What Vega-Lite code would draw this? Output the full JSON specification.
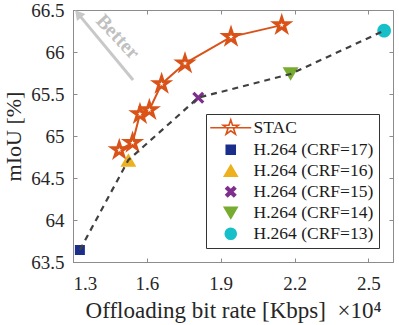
{
  "$schema": "https://vega.github.io/schema/vega-lite/v6.json",
  "width": 320,
  "height": 252,
  "autosize": {"type": "none"},
  "padding": {"left": 73, "top": 10, "right": 6, "bottom": 63},
  "background": "white",
  "config": {
    "view": {"stroke": "#8c8c8c", "strokeWidth": 1},
    "font": "Liberation Serif",
    "axis": {
      "grid": false,
      "domainColor": "#8c8c8c",
      "tickColor": "#8c8c8c",
      "tickSize": -4,
      "labelFont": "Liberation Serif",
      "labelFontSize": 19,
      "labelColor": "#262626",
      "titleFont": "Liberation Serif",
      "titleFontSize": 22,
      "titleFontWeight": "normal",
      "titleColor": "#262626"
    },
    "legend": {
      "labelFont": "Liberation Serif",
      "labelFontSize": 17.5,
      "labelColor": "#1a1a1a",
      "strokeColor": "#333333",
      "fillColor": "white",
      "padding": 5,
      "rowPadding": 2,
      "labelOffset": 14,
      "symbolOffset": 11,
      "symbolSize": 150,
      "symbolStrokeWidth": 1.6,
      "symbolOpacity": 1
    }
  },
  "datasets": {
    "stac": [
      {"series": "STAC", "x": 1.488, "y": 64.833},
      {"series": "STAC", "x": 1.542, "y": 64.92},
      {"series": "STAC", "x": 1.572, "y": 65.262},
      {"series": "STAC", "x": 1.61, "y": 65.31},
      {"series": "STAC", "x": 1.66, "y": 65.62},
      {"series": "STAC", "x": 1.755, "y": 65.865},
      {"series": "STAC", "x": 1.942, "y": 66.18},
      {"series": "STAC", "x": 2.148, "y": 66.32}
    ],
    "h264": [
      {"series": "H.264 (CRF=17)", "x": 1.328, "y": 63.643},
      {"series": "H.264 (CRF=16)", "x": 1.525, "y": 64.714},
      {"series": "H.264 (CRF=15)", "x": 1.809, "y": 65.456},
      {"series": "H.264 (CRF=14)", "x": 2.184, "y": 65.738},
      {"series": "H.264 (CRF=13)", "x": 2.564, "y": 66.254}
    ],
    "arrow": [
      {"x": 1.544, "y": 65.667, "x2": 1.328, "y2": 66.43}
    ],
    "head": [
      {"x": 1.321, "y": 66.454}
    ],
    "note": [
      {"x": 1.481, "y": 66.18, "label": "Better"}
    ]
  },
  "layer": [
    {
      "layer": [
        {
          "data": {"name": "arrow"},
          "mark": {"type": "rule", "color": "#c8c8c8", "strokeWidth": 3},
          "encoding": {
            "x": {
              "field": "x", "type": "quantitative",
              "scale": {"domain": [1.3, 2.6], "zero": false, "nice": false},
              "axis": {
                "values": [1.3, 1.6, 1.9, 2.2, 2.5],
                "format": "~g",
                "labelPadding": 16,
                "title": "Offloading bit rate [Kbps]\u00a0\u00a0\u00d710\u2074",
                "titleFontSize": 23,
                "titleBaseline": "alphabetic",
                "titleY": 55
              }
            },
            "y": {
              "field": "y", "type": "quantitative",
              "scale": {"domain": [63.5, 66.5], "zero": false, "nice": false},
              "axis": {
                "values": [63.5, 64, 64.5, 65, 65.5, 66, 66.5],
                "format": "~g",
                "labelPadding": 13,
                "title": "mIoU [%]",
                "titleBaseline": "alphabetic",
                "titleAlign": "center",
                "titleX": -53,
                "titleY": 126
              }
            },
            "x2": {"field": "x2"},
            "y2": {"field": "y2"}
          }
        },
        {
          "data": {"name": "head"},
          "mark": {"type": "point", "shape": "triangle-up", "filled": true, "color": "#c8c8c8", "opacity": 1, "size": 120, "angle": 320.4},
          "encoding": {
            "x": {"field": "x", "type": "quantitative"},
            "y": {"field": "y", "type": "quantitative"}
          }
        },
        {
          "data": {"name": "note"},
          "mark": {"type": "text", "angle": 46.6, "fontSize": 20, "fontWeight": "bold", "font": "Liberation Serif", "color": "#c0c0c0", "align": "center", "baseline": "middle"},
          "encoding": {
            "x": {"field": "x", "type": "quantitative"},
            "y": {"field": "y", "type": "quantitative"},
            "text": {"field": "label"}
          }
        },
        {
          "data": {"name": "stac"},
          "mark": {"type": "line", "color": "#D95319", "strokeWidth": 2},
          "encoding": {
            "x": {"field": "x", "type": "quantitative"},
            "y": {"field": "y", "type": "quantitative"},
            "order": {"field": "x"}
          }
        },
        {
          "data": {"name": "stac"},
          "mark": {
            "type": "point",
            "shape": "M0,-1L0.2245,-0.309L0.951,-0.309L0.3633,0.118L0.588,0.809L0,0.382L-0.588,0.809L-0.3633,0.118L-0.951,-0.309L-0.2245,-0.309Z",
            "fill": "#ffffff",
            "stroke": "#D95319",
            "opacity": 1,
            "strokeWidth": 3,
            "size": 220
          },
          "encoding": {
            "x": {"field": "x", "type": "quantitative"},
            "y": {"field": "y", "type": "quantitative"}
          }
        },
        {
          "data": {"name": "h264"},
          "transform": [{"filter": "datum.series === 'H.264 (CRF=17)'"}],
          "mark": {"type": "point", "filled": true, "opacity": 1, "strokeWidth": 0, "size": 188},
          "encoding": {
            "x": {"field": "x", "type": "quantitative"},
            "y": {"field": "y", "type": "quantitative"},
            "shape": {
              "field": "series", "type": "nominal",
              "scale": {
                "type": "ordinal",
                "domain": ["STAC", "H.264 (CRF=17)", "H.264 (CRF=16)", "H.264 (CRF=15)", "H.264 (CRF=14)", "H.264 (CRF=13)"],
                "range": [
                  "M-3.35,0L3.35,0M0,-1.3L0.2919,-0.4017L1.2363,-0.4017L0.4723,0.1534L0.7644,1.0517L0,0.4966L-0.7644,1.0517L-0.4723,0.1534L-1.2363,-0.4017L-0.2919,-0.4017Z",
                  "M-0.73,-0.73L0.73,-0.73L0.73,0.73L-0.73,0.73Z",
                  "M0,-0.9L1.05,0.9L-1.05,0.9Z",
                  "M-0.8,-0.5L-0.5,-0.8L0,-0.3L0.5,-0.8L0.8,-0.5L0.3,0L0.8,0.5L0.5,0.8L0,0.3L-0.5,0.8L-0.8,0.5L-0.3,0Z",
                  "M0,0.9L1.05,-0.9L-1.05,-0.9Z",
                  "M0.9,0A0.9,0.9,0,1,1,-0.9,0A0.9,0.9,0,1,1,0.9,0Z"
                ]
              },
              "legend": {"title": null, "orient": "bottom-right", "offset": 14}
            },
            "fill": {
              "field": "series", "type": "nominal",
              "scale": {
                "type": "ordinal",
                "domain": ["STAC", "H.264 (CRF=17)", "H.264 (CRF=16)", "H.264 (CRF=15)", "H.264 (CRF=14)", "H.264 (CRF=13)"],
                "range": ["#ffffff", "#1a2f8c", "#EDB120", "#7E2F8E", "#77AC30", "#17C0C8"]
              },
              "legend": {"title": null}
            },
            "stroke": {
              "field": "series", "type": "nominal",
              "scale": {
                "type": "ordinal",
                "domain": ["STAC", "H.264 (CRF=17)", "H.264 (CRF=16)", "H.264 (CRF=15)", "H.264 (CRF=14)", "H.264 (CRF=13)"],
                "range": ["#D95319", "#1a2f8c", "#EDB120", "#7E2F8E", "#77AC30", "#17C0C8"]
              },
              "legend": {"title": null}
            }
          }
        },
        {
          "data": {"name": "h264"},
          "transform": [{"filter": "datum.series !== 'H.264 (CRF=17)'"}],
          "mark": {"type": "point", "filled": true, "opacity": 1, "strokeWidth": 0, "size": 230},
          "encoding": {
            "x": {"field": "x", "type": "quantitative"},
            "y": {"field": "y", "type": "quantitative"},
            "shape": {"field": "series", "type": "nominal"},
            "fill": {"field": "series", "type": "nominal"},
            "stroke": {"field": "series", "type": "nominal"}
          }
        }
      ]
    },
    {
      "data": {"name": "h264"},
      "mark": {"type": "line", "color": "#404040", "strokeWidth": 2.2, "strokeDash": [6, 5]},
      "encoding": {
        "x": {
          "field": "x", "type": "quantitative",
          "scale": {"domain": [1.3, 2.6], "zero": false, "nice": false},
          "axis": {"orient": "top", "values": [1.3, 1.6, 1.9, 2.2, 2.5], "labels": false, "domain": false, "title": null}
        },
        "y": {
          "field": "y", "type": "quantitative",
          "scale": {"domain": [63.5, 66.5], "zero": false, "nice": false},
          "axis": {"orient": "right", "values": [63.5, 64, 64.5, 65, 65.5, 66, 66.5], "labels": false, "domain": false, "title": null}
        },
        "order": {"field": "x"}
      }
    }
  ],
  "resolve": {"scale": {"x": "independent", "y": "independent"}}
}
